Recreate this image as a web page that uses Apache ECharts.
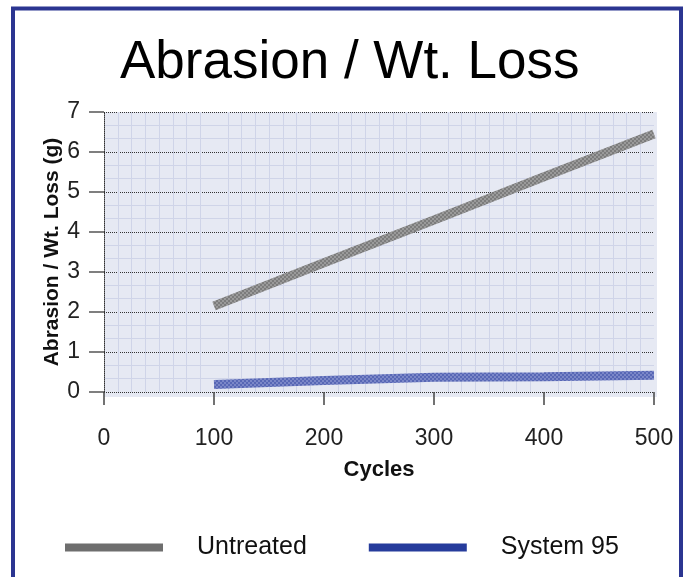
<!DOCTYPE html>
<html>
<head>
<meta charset="utf-8">
<script src="https://cdn.jsdelivr.net/npm/echarts@6/dist/echarts.min.js"></script>
<style>
html,body{margin:0;padding:0;background:#fff;}
#c{width:687px;height:577px;}
</style>
</head>
<body>
<div id="c"></div>
<script>
const titleText = 'Abrasion / Wt. Loss';
const xAxisName = 'Cycles';
const yAxisName = 'Abrasion / Wt. Loss (g)';
const seriesNames = ['Untreated', 'System 95'];
const cycles = [100, 200, 300, 400, 500];
const untreated = [2.15, 3.23, 4.3, 5.38, 6.45];
const system95Cycles = [100, 200, 300, 400, 500];
const system95 = [0.19, 0.29, 0.37, 0.38, 0.42];
const xTicks = [0, 100, 200, 300, 400, 500];
const yTicks = [0, 1, 2, 3, 4, 5, 6, 7];

function makePattern(c1, c2) {
  const cv = document.createElement('canvas');
  cv.width = 4; cv.height = 4;
  const ctx = cv.getContext('2d');
  ctx.fillStyle = c1; ctx.fillRect(0, 0, 4, 4);
  ctx.fillStyle = c2;
  ctx.fillRect(0, 0, 2, 2); ctx.fillRect(2, 2, 2, 2);
  return { image: cv, repeat: 'repeat' };
}

const chart = echarts.init(document.getElementById('c'), null, { renderer: 'canvas' });
const fontFam = 'Liberation Sans, Arial, sans-serif';

chart.setOption({
  backgroundColor: '#ffffff',
  animation: false,
  title: {
    text: titleText,
    left: 115,
    top: 32,
    textStyle: { fontFamily: fontFam, fontSize: 53, fontWeight: 'normal', color: '#000' }
  },
  graphic: [
    { type: 'rect', z: 100, silent: true, shape: { x: 13, y: 8.5, width: 668, height: 580 },
      style: { fill: 'none', stroke: '#2b3591', lineWidth: 4 } },
    { type: 'rect', z: -1, silent: true, shape: { x: 104, y: 112, width: 553, height: 285 },
      style: { fill: '#e6e9f3' } }
  ],
  legend: {
    bottom: 12,
    left: 60,
    itemGap: 62,
    itemWidth: 98,
    itemHeight: 8,
    icon: 'rect',
    textStyle: { fontFamily: fontFam, fontSize: 25, color: '#111', padding: [0, 0, 0, 29] },
    data: [
      { name: seriesNames[0], itemStyle: { color: '#6e6e6e' } },
      { name: seriesNames[1], itemStyle: { color: '#263c9c' } }
    ]
  },
  grid: { left: 104, right: 33, top: 112, bottom: 185, containLabel: false },
  xAxis: {
    type: 'value',
    min: 0, max: 500, interval: 100,
    offset: 5,
    name: xAxisName,
    nameLocation: 'middle',
    nameGap: 62,
    nameMoveOverlap: false,
    nameTextStyle: { fontFamily: fontFam, fontSize: 22, fontWeight: 'bold', color: '#111' },
    axisLine: { show: false },
    axisTick: { show: true, length: 13, lineStyle: { color: '#444', width: 1.5 } },
    axisLabel: { fontFamily: fontFam, fontSize: 23, color: '#222', margin: 30,
      formatter: v => xTicks.includes(v) ? String(v) : '' },
    splitLine: { show: false },
    minorTick: { show: false, splitNumber: 8 },
    minorSplitLine: { show: true, lineStyle: { color: '#cfd4e8', width: 1 } }
  },
  yAxis: {
    type: 'value',
    min: 0, max: 7, interval: 1,
    name: yAxisName,
    nameLocation: 'middle',
    nameGap: 41,
    nameMoveOverlap: false,
    nameTextStyle: { fontFamily: fontFam, fontSize: 21, fontWeight: 'bold', color: '#111' },
    axisLine: { show: true, lineStyle: { color: '#333', type: 'dotted', width: 1 } },
    axisTick: { show: true, length: 15, lineStyle: { color: '#555', width: 1.5 } },
    axisLabel: { fontFamily: fontFam, fontSize: 23, color: '#222', margin: 24,
      formatter: v => yTicks.includes(v) ? String(v) : '' },
    splitLine: { show: true, lineStyle: { color: '#333', type: 'dotted', width: 1 } },
    minorTick: { show: false, splitNumber: 3 },
    minorSplitLine: { show: true, lineStyle: { color: '#cfd4e8', width: 1 } }
  },
  series: [
    {
      name: seriesNames[0],
      type: 'line',
      data: cycles.map((c, i) => [c, untreated[i]]),
      showSymbol: false,
      symbol: 'none',
      itemStyle: { color: '#6e6e6e' },
      lineStyle: { width: 9, color: makePattern('#9a9a9a', '#7c7c7c'), cap: 'butt' },
      z: 3
    },
    {
      name: seriesNames[1],
      type: 'line',
      data: system95Cycles.map((c, i) => [c, system95[i]]),
      showSymbol: false,
      symbol: 'none',
      itemStyle: { color: '#263c9c' },
      lineStyle: { width: 9, color: makePattern('#7b87c8', '#5767b5'), cap: 'butt' },
      z: 3
    }
  ]
});
</script>
</body>
</html>
